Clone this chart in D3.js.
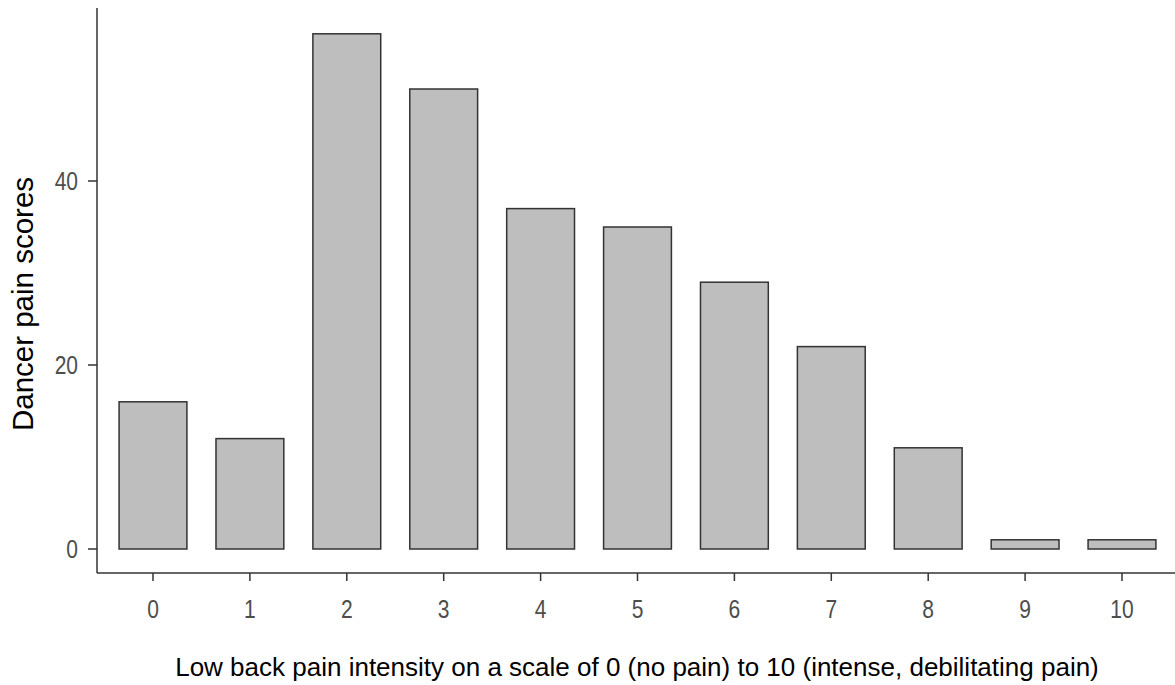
<!DOCTYPE html>
<html>
<head>
<meta charset="utf-8">
<script src="https://cdn.jsdelivr.net/npm/d3@7"></script>
<style>
  body { margin: 0; background: #fff; }
  .tick-label { font-family: "Liberation Sans", Arial, sans-serif; font-size: 21px; fill: #4d4d4d; }
  .axis-title { font-family: "Liberation Sans", Arial, sans-serif; fill: #000; }
</style>
</head>
<body>
<svg id="chart" width="1175" height="685"></svg>
<script>
// pain intensity categories and counts
var painLevels = [0, 1, 2, 3, 4, 5, 6, 7, 8, 9, 10];
var painCounts = [16, 12, 56, 50, 37, 35, 29, 22, 11, 1, 1];
var yTicks = [0, 20, 40];

var width = 1175, height = 685;
var svg = d3.select("#chart");

var x = d3.scaleLinear().domain([0, 10]).range([153, 1122]);
var y = d3.scaleLinear().domain([0, 20]).range([549, 365]);
var barWidth = 0.7 * (x(1) - x(0));

var axisX = 97, axisY = 573;

// bars
svg.selectAll("rect.bar")
    .data(painLevels)
    .enter().append("rect")
    .attr("class", "bar")
    .attr("x", function (d) { return x(d) - barWidth / 2; })
    .attr("width", barWidth)
    .attr("y", function (d, i) { return y(painCounts[i]); })
    .attr("height", function (d, i) { return y(0) - y(painCounts[i]); })
    .attr("fill", "#bebebe")
    .attr("stroke", "#333")
    .attr("stroke-width", 1.5);

// axes lines
svg.append("line")
    .attr("x1", axisX).attr("x2", axisX)
    .attr("y1", 8).attr("y2", axisY)
    .attr("stroke", "#333").attr("stroke-width", 1.5);
svg.append("line")
    .attr("x1", axisX).attr("x2", width)
    .attr("y1", axisY).attr("y2", axisY)
    .attr("stroke", "#333").attr("stroke-width", 1.5);

// y ticks
yTicks.forEach(function (t) {
    svg.append("line")
        .attr("x1", axisX - 9).attr("x2", axisX)
        .attr("y1", y(t)).attr("y2", y(t))
        .attr("stroke", "#333").attr("stroke-width", 1.5);
    svg.append("text")
        .text(t)
        .attr("class", "tick-label")
        .attr("text-anchor", "end")
        .attr("dy", "0.35em")
        .attr("transform", "translate(" + (axisX - 19) + "," + y(t) + ") scale(1,1.25)");
});

// x ticks
painLevels.forEach(function (t) {
    svg.append("line")
        .attr("x1", x(t)).attr("x2", x(t))
        .attr("y1", axisY).attr("y2", axisY + 8)
        .attr("stroke", "#333").attr("stroke-width", 1.5);
    svg.append("text")
        .text(t)
        .attr("class", "tick-label")
        .attr("text-anchor", "middle")
        .attr("dy", "0.35em")
        .attr("transform", "translate(" + x(t) + ",609) scale(1,1.25)");
});

// axis titles
svg.append("text")
    .text("Low back pain intensity on a scale of 0 (no pain) to 10 (intense, debilitating pain)")
    .attr("class", "axis-title")
    .style("font-size", "26px")
    .attr("x", 637)
    .attr("y", 676)
    .attr("text-anchor", "middle");

svg.append("text")
    .text("Dancer pain scores")
    .attr("class", "axis-title")
    .style("font-size", "29.5px")
    .attr("transform", "translate(33,304) rotate(-90)")
    .attr("text-anchor", "middle");
</script>
</body>
</html>
